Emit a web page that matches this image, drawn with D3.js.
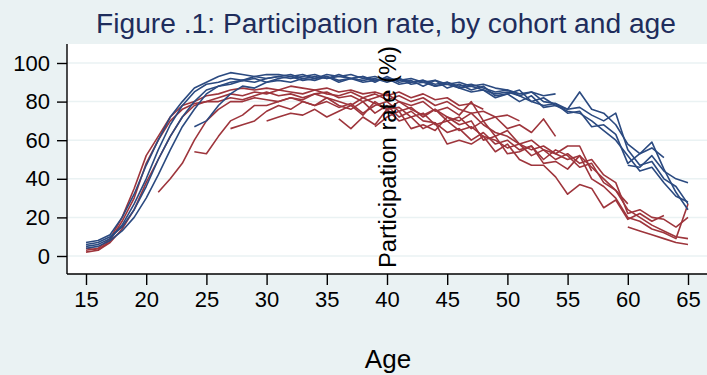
<!DOCTYPE html>
<html>
<head>
<meta charset="utf-8">
<script src="https://cdn.jsdelivr.net/npm/d3@7"></script>
<style>
  body { margin: 0; background: #eaf2f3; }
  svg { display: block; font-family: "Liberation Sans", Arial, sans-serif; }
</style>
</head>
<body>
<div id="chart"></div>
<script>
// tick values
const xTicks = [15, 20, 25, 30, 35, 40, 45, 50, 55, 60, 65];
const yTicks = [0, 20, 40, 60, 80, 100];

// blue cohorts: participation rate (%) by single year of age, from the start age
const blueStarts = [15, 15, 15, 24, 15, 60];
const blue1 = [7, 8, 11, 20, 32, 47, 60, 72, 80, 87, 90, 93, 95, 94, 93, 94, 94, 93, 94, 92,
  94, 93, 92, 93, 91, 92, 91, 92, 90, 91, 89, 90, 88, 89, 87, 86, 84, 85, 83, 84];
const blue2 = [5, 6, 9, 16, 27, 40, 55, 68, 78, 85, 89, 90, 92, 91, 93, 92, 93, 94, 92, 93,
  92, 94, 92, 91, 92, 90, 92, 89, 90, 88, 90, 87, 88, 86, 84, 85, 83, 80, 82, 78,
  76, 85, 76, 74, 68, 58, 53, 56, 51];
const blue3 = [4, 5, 8, 13, 20, 30, 42, 55, 67, 76, 84, 88, 90, 91, 90, 92, 93, 92, 93, 94,
  92, 93, 94, 92, 93, 91, 92, 90, 91, 89, 90, 88, 89, 87, 85, 86, 83, 85, 80, 79,
  76, 77, 73, 70, 74, 55, 47, 49, 40, 36, 27];
const blue4 = [67, 70, 78, 84, 88, 87, 90, 91, 90, 92, 91, 93, 90, 92, 93, 90, 93, 90, 91, 88,
  91, 87, 89, 86, 88, 83, 84, 86, 80, 78, 79, 74, 75, 67, 68, 63, 48, 53, 59, 45, 33, 24];
const blue5 = [6, 7, 10, 15, 24, 36, 50, 62, 72, 80, 86, 88, 89, 91, 92, 90, 92, 93, 91, 92,
  93, 91, 92, 90, 91, 92, 89, 90, 91, 88, 89, 87, 85, 86, 82, 84, 80, 83, 77, 78,
  75, 74, 70, 65, 60, 52, 44, 46, 38, 31, 28];
const blue6 = [47, 46, 52, 44, 40, 38];
const blueSeries = [blue1, blue2, blue3, blue4, blue5, blue6];

// red cohorts
const redStarts = [15, 15, 15, 21, 24, 27, 30, 36, 39, 60];
const red1 = [3, 4, 9, 20, 35, 52, 62, 72, 78, 80, 83, 84, 86, 87, 86, 87, 86, 88, 87, 86,
  87, 85, 86, 84, 85, 83, 85, 82, 84, 81, 82, 78, 79, 76];
const red2 = [2, 3, 8, 18, 30, 48, 60, 70, 76, 79, 80, 82, 84, 83, 85, 84, 86, 85, 84, 86,
  84, 83, 85, 82, 84, 81, 83, 80, 82, 78, 80, 76, 74, 75, 72, 73, 70];
const red3 = [4, 3, 7, 14, 24, 38, 50, 62, 72, 78, 80, 80, 82, 81, 83, 85, 83, 84, 82, 84,
  85, 82, 83, 80, 82, 84, 80, 78, 80, 75, 77, 73, 80, 70, 72, 66, 68, 64, 71, 62];
const red4 = [33, 40, 48, 60, 70, 76, 80, 80, 82, 81, 80, 82, 80, 78, 80, 77, 79, 74, 78, 80,
  75, 77, 72, 76, 70, 72, 66, 70, 62, 65, 58, 60, 55, 53, 57, 57, 44];
const red5 = [54, 53, 62, 70, 73, 78, 78, 80, 82, 81, 84, 82, 80, 78, 82, 79, 76, 80, 76, 73,
  76, 72, 70, 74, 68, 64, 62, 58, 55, 57, 53, 50, 52, 46, 40, 34, 27];
const red6 = [66, 68, 70, 75, 78, 76, 80, 78, 82, 78, 76, 80, 74, 78, 72, 75, 70, 69, 58, 60,
  58, 62, 54, 58, 50, 47, 47, 41, 32, 37, 35, 25, 29, 19, 22, 18, 21];
const red7 = [70, 72, 74, 73, 76, 72, 75, 78, 73, 80, 76, 77, 72, 74, 68, 70, 65, 67, 62, 60,
  56, 58, 52, 55, 50, 53, 48, 50, 42, 38, 22, 24, 20, 19, 15, 20];
const red8 = [71, 66, 72, 68, 76, 70, 72, 66, 69, 64, 66, 60, 64, 58, 60, 55, 57, 50, 55, 52,
  46, 48, 38, 34, 24, 20, 16, 13, 10, 9];
const red9 = [67, 72, 75, 66, 68, 65, 72, 68, 70, 60, 62, 53, 54, 57, 48, 49, 45, 52, 40, 36,
  30, 20, 18, 14, 12, 9, 27];
const red10 = [15, 13, 11, 9, 7, 6];
const redSeries = [red1, red2, red3, red4, red5, red6, red7, red8, red9, red10];

const W = 707, H = 375;
const plot = {left: 67, right: 707, top: 44, bottom: 274};

const svg = d3.select("#chart").append("svg")
    .attr("width", W)
    .attr("height", H);

svg.append("rect")
    .attr("width", W).attr("height", H)
    .attr("fill", "#eaf2f3");

svg.append("rect")
    .attr("x", plot.left).attr("y", plot.top)
    .attr("width", plot.right - plot.left)
    .attr("height", plot.bottom - plot.top)
    .attr("fill", "#fff");

const x = d3.scaleLinear().domain([15, 65]).range([86, 688]);
const y = d3.scaleLinear().domain([0, 100]).range([256, 63]);

// gridlines
svg.append("g")
  .selectAll("line")
  .data(yTicks)
  .join("line")
    .attr("x1", plot.left).attr("x2", plot.right)
    .attr("y1", d => y(d)).attr("y2", d => y(d))
    .attr("stroke", "#eaf2f3")
    .attr("stroke-width", 1.5);

const line = d3.line()
    .x(d => x(d[0]))
    .y(d => y(d[1]));

function drawSeries(series, starts, color) {
  series.forEach((vals, i) => {
    const pts = vals.map((v, j) => [starts[i] + j, v]);
    svg.append("path")
        .datum(pts)
        .attr("fill", "none")
        .attr("stroke", color)
        .attr("stroke-width", 1.6)
        .attr("stroke-linejoin", "round")
        .attr("d", line);
  });
}
drawSeries(redSeries, redStarts, "#9e353c");
drawSeries(blueSeries, blueStarts, "#2b4a80");

// axes
const yAxis = svg.append("g")
    .attr("transform", "translate(" + plot.left + ",0)")
    .call(d3.axisLeft(y).tickValues(yTicks).tickSize(10).tickPadding(7));
yAxis.select(".domain").attr("d", "M0," + plot.top + "V" + plot.bottom);

const xAxis = svg.append("g")
    .attr("transform", "translate(0," + plot.bottom + ")")
    .call(d3.axisBottom(x).tickValues(xTicks).tickSize(11).tickPadding(6));
xAxis.select(".domain").attr("d", "M" + plot.left + ",0H" + plot.right);

svg.selectAll(".domain").attr("stroke", "#000").attr("stroke-width", 1.4);
svg.selectAll(".tick line").attr("stroke", "#000").attr("stroke-width", 1.4);
svg.selectAll(".tick text")
    .attr("fill", "#000")
    .style("font-size", "22px")
    .style("font-family", "'Liberation Sans', Arial, sans-serif");

// y-axis title sits inside the plot
svg.append("text")
    .attr("transform", "translate(396,157) rotate(-90)")
    .attr("text-anchor", "middle")
    .attr("fill", "#000")
    .attr("textLength", 222)
    .attr("lengthAdjust", "spacingAndGlyphs")
    .style("font-size", "23px")
    .text("Participation rate (%)");

svg.append("text")
    .attr("x", 388).attr("y", 368)
    .attr("text-anchor", "middle")
    .attr("fill", "#000")
    .style("font-size", "26px")
    .text("Age");

svg.append("text")
    .attr("x", 386).attr("y", 33)
    .attr("text-anchor", "middle")
    .attr("fill", "#1e2d5c")
    .attr("textLength", 580)
    .attr("lengthAdjust", "spacingAndGlyphs")
    .style("font-size", "27px")
    .text("Figure .1: Participation rate, by cohort and age");
</script>
</body>
</html>
